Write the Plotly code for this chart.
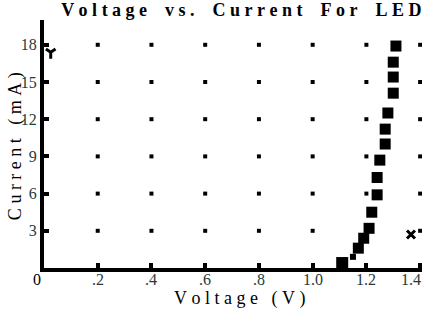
import plotly.graph_objects as go

# Data
voltage = [1.11, 1.15, 1.17, 1.19, 1.21, 1.22, 1.24, 1.24, 1.25, 1.27, 1.27, 1.28, 1.30, 1.30, 1.30, 1.31]
current = [0.4, 0.9, 1.6, 2.4, 3.2, 4.5, 5.9, 7.3, 8.7, 10.0, 11.2, 12.5, 14.1, 15.4, 16.6, 17.9]

# stray marks seen in the chart
stray_y_v, stray_y_i = [0.025], [17.4]
stray_x_v, stray_x_i = [1.366], [2.7]

x_ticks = [0.2, 0.4, 0.6, 0.8, 1.0, 1.2, 1.4]
x_tick_labels = [".2", ".4", ".6", ".8", "1.0", "1.2", "1.4"]
y_ticks = [3, 6, 9, 12, 15, 18]
y_tick_labels = ["3", "6", "9", "12", "15", "18"]

title_text = "Voltage vs. Current For LED"
x_title = "Voltage (V)"
y_title = "Current (mA)"


def spaced(s, word_gap=2):
    nb = "\u00a0"
    out = []
    for ch in s:
        if ch == " ":
            out.append(nb * word_gap)
        else:
            out.append(ch + nb)
    return "".join(out).rstrip(nb)


SERIF = "Liberation Serif, Times New Roman, serif"
TICKCOL = "#1f3b3b"

fig = go.Figure()

# grid dots
gx, gy = [], []
for xv in x_ticks:
    for yv in y_ticks:
        gx.append(xv)
        gy.append(yv)
fig.add_trace(go.Scatter(x=gx, y=gy, mode="markers",
                         marker=dict(symbol="square", size=4, color="black", opacity=1,
                                     line=dict(width=0)),
                         hoverinfo="skip", showlegend=False))

sizes = [12, 6] + [11] * (len(voltage) - 2)
fig.add_trace(go.Scatter(x=voltage, y=current, mode="markers",
                         marker=dict(symbol="square", size=sizes, color="black", opacity=1,
                                     line=dict(width=0)),
                         showlegend=False))

fig.add_trace(go.Scatter(x=stray_y_v, y=stray_y_i, mode="markers",
                         marker=dict(symbol="y-down", size=8, color="black", opacity=1,
                                     line=dict(width=3, color="black")),
                         showlegend=False))
fig.add_trace(go.Scatter(x=stray_x_v, y=stray_x_i, mode="markers",
                         marker=dict(symbol="x-thin", size=8, color="black", opacity=1,
                                     line=dict(width=3, color="black")),
                         showlegend=False))

annotations = [
    dict(text="0", x=0, y=0, xref="x", yref="y", showarrow=False,
         xanchor="right", yanchor="top", xshift=-1, yshift=-1,
         font=dict(family=SERIF, size=16, color="black")),
    dict(text=spaced(x_title), x=0.518, y=-0.122, xref="paper", yref="paper",
         showarrow=False, xanchor="center", yanchor="middle",
         font=dict(family=SERIF, size=18, color="black")),
    dict(text=spaced(y_title), x=-0.075, y=0.49, xref="paper", yref="paper",
         showarrow=False, xanchor="center", yanchor="middle", textangle=-90,
         font=dict(family=SERIF, size=18, color="black")),
]
# x tick labels, placed right under the axis line as in the reference
for i, (xv, lab) in enumerate(zip(x_ticks, x_tick_labels)):
    last = i == len(x_ticks) - 1
    annotations.append(dict(text=lab, x=xv, y=0, xref="x", yref="y", showarrow=False,
                            xanchor="right" if last else "center", xshift=3 if last else 0,
                            yanchor="top", yshift=-1,
                            font=dict(family=SERIF, size=16, color=TICKCOL)))

fig.update_layout(
    width=425, height=310,
    margin=dict(l=44, r=3, t=20, b=42),
    plot_bgcolor="white", paper_bgcolor="white",
    title=dict(text="<b>" + spaced(title_text, 3) + "</b>",
               font=dict(family=SERIF, size=18, color="black"),
               x=0.992, xanchor="right", xref="container",
               y=0.988, yanchor="top", yref="container"),
    xaxis=dict(range=[0, 1.407], showgrid=False, zeroline=False,
               showline=True, linecolor="black", linewidth=4,
               ticks="inside", ticklen=5, tickwidth=4, tickcolor="black",
               tickvals=x_ticks, showticklabels=False),
    yaxis=dict(range=[0, 20], showgrid=False, zeroline=False,
               showline=True, linecolor="black", linewidth=4,
               ticks="inside", ticklen=5, tickwidth=4, tickcolor="black",
               tickvals=y_ticks, ticktext=y_tick_labels,
               tickfont=dict(family=SERIF, size=16, color=TICKCOL)),
    annotations=annotations,
)

fig.write_html("out.html")
